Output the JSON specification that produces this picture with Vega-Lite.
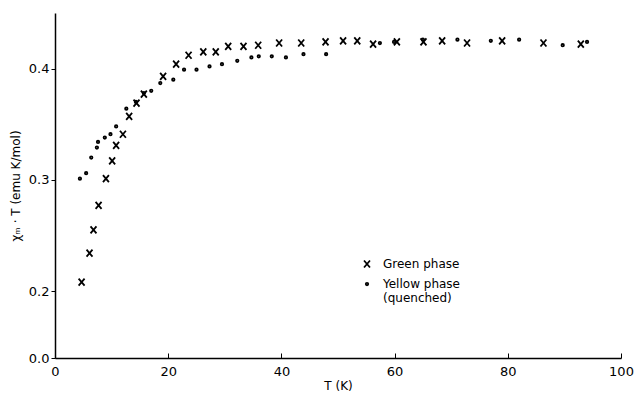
{
  "$schema": "https://vega.github.io/schema/vega-lite/v6.json",
  "width": 566,
  "height": 345,
  "autosize": {"type": "none"},
  "padding": {"left": 55, "top": 13, "right": 14, "bottom": 36},
  "background": "white",
  "config": {
    "view": {"stroke": null},
    "font": "DejaVu Sans",
    "axis": {"grid": false, "domainColor": "black", "domainWidth": 1.5, "tickColor": "black", "labelColor": "black", "titleColor": "black", "labelFont": "DejaVu Sans", "titleFont": "DejaVu Sans", "titleFontWeight": "normal", "labelFontSize": 13, "titleFontSize": 12},
    "legend": {
      "orient": "none", "legendX": 306, "legendY": 245,
      "labelFontSize": 12, "labelColor": "black", "labelFont": "DejaVu Sans",
      "symbolStrokeColor": "black", "symbolStrokeWidth": 1.8, "symbolFillColor": "transparent",
      "rowPadding": 6, "labelOffset": 10
    }
  },
  "data": {
    "values": [
      {"T": 4.7, "chiT": 0.208, "phase": "Green phase"},
      {"T": 6.1, "chiT": 0.234, "phase": "Green phase"},
      {"T": 6.8, "chiT": 0.255, "phase": "Green phase"},
      {"T": 7.7, "chiT": 0.277, "phase": "Green phase"},
      {"T": 9.0, "chiT": 0.301, "phase": "Green phase"},
      {"T": 10.1, "chiT": 0.317, "phase": "Green phase"},
      {"T": 10.8, "chiT": 0.331, "phase": "Green phase"},
      {"T": 12.0, "chiT": 0.341, "phase": "Green phase"},
      {"T": 13.1, "chiT": 0.357, "phase": "Green phase"},
      {"T": 14.4, "chiT": 0.369, "phase": "Green phase"},
      {"T": 15.7, "chiT": 0.377, "phase": "Green phase"},
      {"T": 19.1, "chiT": 0.393, "phase": "Green phase"},
      {"T": 21.4, "chiT": 0.404, "phase": "Green phase"},
      {"T": 23.6, "chiT": 0.412, "phase": "Green phase"},
      {"T": 26.2, "chiT": 0.415, "phase": "Green phase"},
      {"T": 28.4, "chiT": 0.415, "phase": "Green phase"},
      {"T": 30.6, "chiT": 0.420, "phase": "Green phase"},
      {"T": 33.3, "chiT": 0.420, "phase": "Green phase"},
      {"T": 35.9, "chiT": 0.421, "phase": "Green phase"},
      {"T": 39.6, "chiT": 0.423, "phase": "Green phase"},
      {"T": 43.5, "chiT": 0.423, "phase": "Green phase"},
      {"T": 47.8, "chiT": 0.424, "phase": "Green phase"},
      {"T": 50.9, "chiT": 0.425, "phase": "Green phase"},
      {"T": 53.4, "chiT": 0.425, "phase": "Green phase"},
      {"T": 56.2, "chiT": 0.422, "phase": "Green phase"},
      {"T": 60.4, "chiT": 0.424, "phase": "Green phase"},
      {"T": 65.1, "chiT": 0.424, "phase": "Green phase"},
      {"T": 68.4, "chiT": 0.425, "phase": "Green phase"},
      {"T": 72.8, "chiT": 0.423, "phase": "Green phase"},
      {"T": 79.0, "chiT": 0.425, "phase": "Green phase"},
      {"T": 86.3, "chiT": 0.423, "phase": "Green phase"},
      {"T": 92.9, "chiT": 0.422, "phase": "Green phase"},
      {"T": 4.4, "chiT": 0.301, "phase": "Yellow phase (quenched)"},
      {"T": 5.5, "chiT": 0.306, "phase": "Yellow phase (quenched)"},
      {"T": 6.4, "chiT": 0.320, "phase": "Yellow phase (quenched)"},
      {"T": 7.4, "chiT": 0.329, "phase": "Yellow phase (quenched)"},
      {"T": 7.6, "chiT": 0.334, "phase": "Yellow phase (quenched)"},
      {"T": 8.8, "chiT": 0.338, "phase": "Yellow phase (quenched)"},
      {"T": 9.8, "chiT": 0.341, "phase": "Yellow phase (quenched)"},
      {"T": 10.8, "chiT": 0.348, "phase": "Yellow phase (quenched)"},
      {"T": 12.6, "chiT": 0.364, "phase": "Yellow phase (quenched)"},
      {"T": 14.3, "chiT": 0.370, "phase": "Yellow phase (quenched)"},
      {"T": 15.7, "chiT": 0.378, "phase": "Yellow phase (quenched)"},
      {"T": 17.0, "chiT": 0.380, "phase": "Yellow phase (quenched)"},
      {"T": 18.6, "chiT": 0.387, "phase": "Yellow phase (quenched)"},
      {"T": 20.9, "chiT": 0.390, "phase": "Yellow phase (quenched)"},
      {"T": 22.8, "chiT": 0.399, "phase": "Yellow phase (quenched)"},
      {"T": 25.0, "chiT": 0.399, "phase": "Yellow phase (quenched)"},
      {"T": 27.3, "chiT": 0.402, "phase": "Yellow phase (quenched)"},
      {"T": 29.5, "chiT": 0.404, "phase": "Yellow phase (quenched)"},
      {"T": 32.2, "chiT": 0.407, "phase": "Yellow phase (quenched)"},
      {"T": 34.7, "chiT": 0.410, "phase": "Yellow phase (quenched)"},
      {"T": 36.0, "chiT": 0.411, "phase": "Yellow phase (quenched)"},
      {"T": 38.3, "chiT": 0.411, "phase": "Yellow phase (quenched)"},
      {"T": 40.8, "chiT": 0.410, "phase": "Yellow phase (quenched)"},
      {"T": 43.9, "chiT": 0.413, "phase": "Yellow phase (quenched)"},
      {"T": 47.9, "chiT": 0.413, "phase": "Yellow phase (quenched)"},
      {"T": 57.4, "chiT": 0.423, "phase": "Yellow phase (quenched)"},
      {"T": 59.9, "chiT": 0.424, "phase": "Yellow phase (quenched)"},
      {"T": 65.0, "chiT": 0.426, "phase": "Yellow phase (quenched)"},
      {"T": 71.1, "chiT": 0.426, "phase": "Yellow phase (quenched)"},
      {"T": 77.0, "chiT": 0.425, "phase": "Yellow phase (quenched)"},
      {"T": 82.0, "chiT": 0.426, "phase": "Yellow phase (quenched)"},
      {"T": 89.7, "chiT": 0.421, "phase": "Yellow phase (quenched)"},
      {"T": 94.0, "chiT": 0.424, "phase": "Yellow phase (quenched)"}
    ]
  },
  "mark": {"type": "point", "filled": false, "stroke": "black", "strokeWidth": 1.8, "opacity": 1},
  "encoding": {
    "x": {
      "field": "T", "type": "quantitative",
      "scale": {"domain": [0, 100], "nice": false, "zero": false},
      "axis": {"values": [0, 20, 40, 60, 80, 100], "tickSize": -5, "labelPadding": 12, "title": "T (K)", "titlePadding": 2, "labelFlush": false}
    },
    "y": {
      "field": "chiT", "type": "quantitative",
      "scale": {"domain": [0, 0.2, 0.45], "range": [345, 278, 0], "nice": false, "zero": false},
      "axis": {"values": [0, 0.2, 0.3, 0.4], "format": ".1f", "tickSize": 4, "labelPadding": 2, "title": "χₘ · T (emu K/mol)", "titlePadding": 6}
    },
    "shape": {
      "field": "phase", "type": "nominal", "title": null,
      "scale": {"domain": ["Green phase", "Yellow phase (quenched)"], "range": ["M-0.85,-1L0.85,1M0.85,-1L-0.85,1", "circle"]},
      "legend": {
        "labelExpr": "datum.label == 'Yellow phase (quenched)' ? ['Yellow phase', '\u2003\u2002(quenched)'] : datum.label"
      }
    },
    "size": {
      "field": "phase", "type": "nominal", "title": null,
      "scale": {"domain": ["Green phase", "Yellow phase (quenched)"], "range": [49, 6]}
    }
  }
}
